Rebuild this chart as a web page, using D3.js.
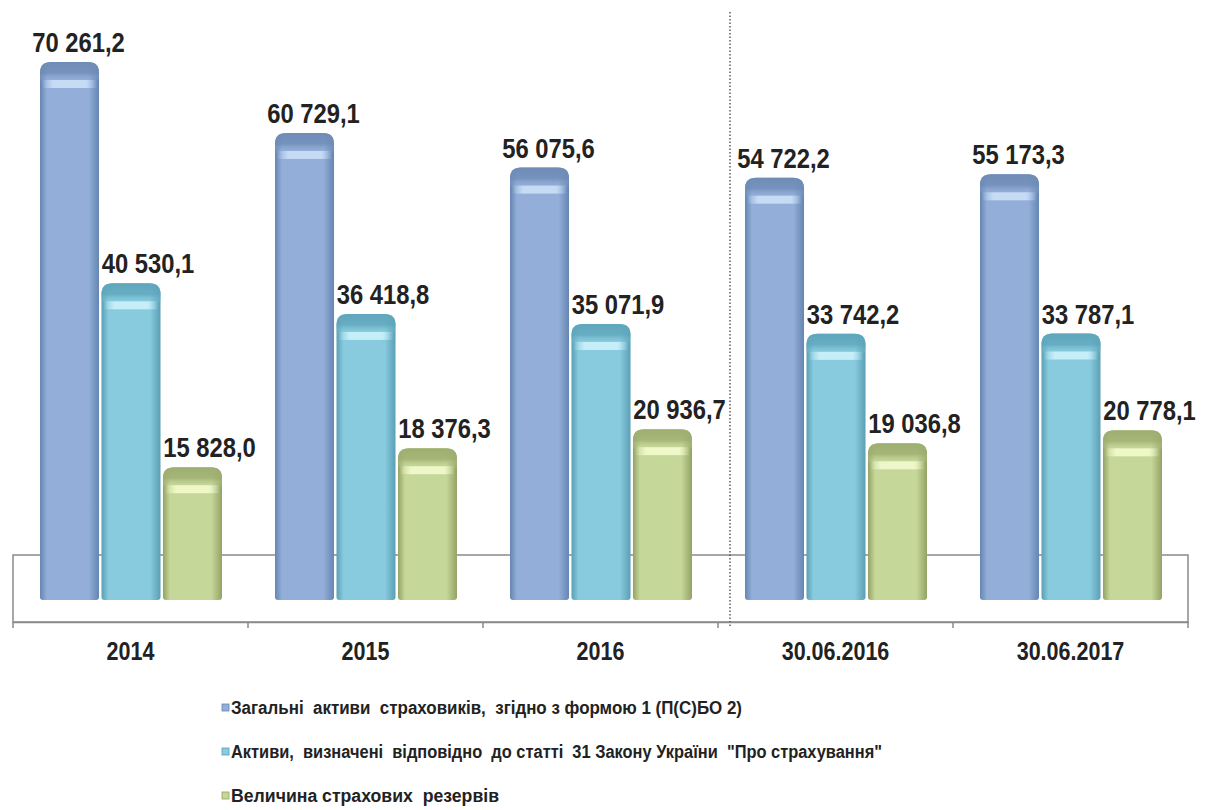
<!DOCTYPE html>
<html>
<head>
<meta charset="utf-8">
<script src="https://cdn.jsdelivr.net/npm/d3@7"></script>
<style>
  body { margin: 0; background: #fff; }
  svg text { font-family: "Liberation Sans", Arial, sans-serif; font-weight: bold; fill: #222; }
</style>
</head>
<body>
<div id="chart"></div>
<script>
// ============ data ============
var categories = ["2014", "2015", "2016", "30.06.2016", "30.06.2017"];
var seriesNames = [
  "Загальні  активи  страховиків,  згідно з формою 1 (П(С)БО 2)",
  "Активи,  визначені  відповідно  до статті  31 Закону України  \"Про страхування\"",
  "Величина страхових  резервів"
];
var totalAssets = [70261.2, 60729.1, 56075.6, 54722.2, 55173.3];
var lawAssets = [40530.1, 36418.8, 35071.9, 33742.2, 33787.1];
var reserves = [15828.0, 18376.3, 20936.7, 19036.8, 20778.1];
var valueLabels = [
  ["70 261,2", "60 729,1", "56 075,6", "54 722,2", "55 173,3"],
  ["40 530,1", "36 418,8", "35 071,9", "33 742,2", "33 787,1"],
  ["15 828,0", "18 376,3", "20 936,7", "19 036,8", "20 778,1"]
];

var seriesValues = [totalAssets, lawAssets, reserves];

// colours per series: body, edge, cap, highlight
var palette = [
  { body: "#93afd9", edge: "#6585b2", cap: "#6f8cb7", hi: "#c8def6" },
  { body: "#88cbde", edge: "#5a9fb5", cap: "#5fa6bc", hi: "#c9f0fa" },
  { body: "#c6d79a", edge: "#93a365", cap: "#9dae70", hi: "#f1f9cb" }
];

// squeeze text horizontally (the original uses a narrow font)
function condense(sel, factor) {
  sel.each(function() {
    var len = this.getComputedTextLength();
    d3.select(this)
      .attr("textLength", len * factor)
      .attr("lengthAdjust", "spacingAndGlyphs");
  });
}

// ============ chart setup ============
var svgWidth = 1217;
var svgHeight = 810;

var svg = d3.select("#chart")
  .append("svg")
  .attr("width", svgWidth)
  .attr("height", svgHeight);

var defs = svg.append("defs");

palette.forEach(function(p, i) {
  var g = defs.append("linearGradient")
    .attr("id", "body" + i)
    .attr("x1", "0%").attr("x2", "100%").attr("y1", "0%").attr("y2", "0%");
  g.append("stop").attr("offset", "0%").attr("stop-color", p.edge);
  g.append("stop").attr("offset", "12%").attr("stop-color", p.body);
  g.append("stop").attr("offset", "82%").attr("stop-color", p.body);
  g.append("stop").attr("offset", "100%").attr("stop-color", p.edge);

  var c = defs.append("linearGradient")
    .attr("id", "cap" + i)
    .attr("x1", "0%").attr("x2", "0%").attr("y1", "0%").attr("y2", "100%");
  c.append("stop").attr("offset", "0%").attr("stop-color", p.cap);
  c.append("stop").attr("offset", "55%").attr("stop-color", p.cap).attr("stop-opacity", 0.8);
  c.append("stop").attr("offset", "100%").attr("stop-color", p.body).attr("stop-opacity", 0);

  var h = defs.append("linearGradient")
    .attr("id", "hi" + i)
    .attr("x1", "0%").attr("x2", "100%").attr("y1", "0%").attr("y2", "0%");
  h.append("stop").attr("offset", "0%").attr("stop-color", p.hi).attr("stop-opacity", 0);
  h.append("stop").attr("offset", "20%").attr("stop-color", p.hi).attr("stop-opacity", 0.95);
  h.append("stop").attr("offset", "80%").attr("stop-color", p.hi).attr("stop-opacity", 0.95);
  h.append("stop").attr("offset", "100%").attr("stop-color", p.hi).attr("stop-opacity", 0);
});

// scales
var x0 = d3.scaleBand()
  .domain(categories)
  .range([13, 1188])
  .padding(0);

var x1 = d3.scaleBand()
  .domain(d3.range(seriesNames.length))
  .range([27, 209])
  .paddingInner(0.04);

var y = d3.scaleLinear()
  .domain([0, d3.max(totalAssets)])
  .range([585, 62]);

var depth = 15;           // 3D floor depth below the zero plane
var floorTop = y(0) - 30; // back edge of the floor
var floorBottom = y(0) + 37;

// floor box
svg.append("rect")
  .attr("x", x0.range()[0])
  .attr("y", floorTop)
  .attr("width", x0.range()[1] - x0.range()[0])
  .attr("height", floorBottom - floorTop)
  .attr("fill", "none")
  .attr("stroke", "#8a8a8a")
  .attr("stroke-width", 1.5);

// dotted divider between annual and half-year data
var divX = x0("30.06.2016") + 12;
svg.append("line")
  .attr("x1", divX).attr("x2", divX)
  .attr("y1", 12).attr("y2", floorBottom + 4)
  .attr("stroke", "#444")
  .attr("stroke-width", 1.3)
  .attr("stroke-dasharray", "1.5,2");

// bars
var groups = svg.selectAll("g.cat")
  .data(categories)
  .enter()
  .append("g")
  .attr("class", "cat")
  .attr("transform", d => `translate(${x0(d)},0)`);

groups.each(function(cat, ci) {
  var g = d3.select(this);
  seriesValues.forEach(function(vals, si) {
    var v = vals[ci];
    var bx = x1(si);
    var bw = x1.bandwidth();
    var top = y(v);
    var bottom = y(0) + depth;
    var r = 11;

    var path = d3.path();
    path.moveTo(bx, bottom - 3);
    path.lineTo(bx, top + r);
    path.quadraticCurveTo(bx, top, bx + r, top);
    path.lineTo(bx + bw - r, top);
    path.quadraticCurveTo(bx + bw, top, bx + bw, top + r);
    path.lineTo(bx + bw, bottom - 3);
    path.quadraticCurveTo(bx + bw, bottom, bx + bw - 3, bottom);
    path.lineTo(bx + 3, bottom);
    path.quadraticCurveTo(bx, bottom, bx, bottom - 3);
    path.closePath();

    g.append("path")
      .attr("d", path.toString())
      .attr("fill", "url(#body" + si + ")");

    // darker rounded cap
    var cap = d3.path();
    cap.moveTo(bx, top + 20);
    cap.lineTo(bx, top + r);
    cap.quadraticCurveTo(bx, top, bx + r, top);
    cap.lineTo(bx + bw - r, top);
    cap.quadraticCurveTo(bx + bw, top, bx + bw, top + r);
    cap.lineTo(bx + bw, top + 20);
    cap.closePath();
    g.append("path")
      .attr("d", cap.toString())
      .attr("fill", "url(#cap" + si + ")");

    // highlight band
    g.append("rect")
      .attr("x", bx + 2)
      .attr("y", top + 18)
      .attr("width", bw - 4)
      .attr("height", 8)
      .attr("fill", "url(#hi" + si + ")");

    // value label, nudged right as in the original
    var nudge = si === 0 ? 9 : 17;
    g.append("text")
      .attr("class", "vlabel")
      .attr("x", bx + bw / 2 + nudge)
      .attr("y", top - 10)
      .attr("text-anchor", "middle")
      .style("font-size", "28px")
      .text(valueLabels[si][ci]);
  });
});
condense(svg.selectAll("text.vlabel"), 0.85);

// x axis along the front of the floor
var xAxis = d3.axisBottom(x0).tickSize(0).tickPadding(0);
var axisG = svg.append("g")
  .attr("transform", `translate(0, ${floorBottom})`)
  .call(xAxis);
axisG.select(".domain").attr("stroke", "#8a8a8a").attr("stroke-width", 1.5);
axisG.selectAll(".tick text")
  .attr("y", 38)
  .attr("dy", 0)
  .style("font-size", "25px")
  .style("font-family", "'Liberation Sans', Arial, sans-serif")
  .style("font-weight", "bold")
  .style("fill", "#222");
condense(axisG.selectAll(".tick text"), 0.86);

// boundary tick marks
var bounds = categories.map(c => x0(c)).concat([x0.range()[1]]);
svg.selectAll("line.btick")
  .data(bounds)
  .enter()
  .append("line")
  .attr("class", "btick")
  .attr("x1", d => d).attr("x2", d => d)
  .attr("y1", floorBottom).attr("y2", floorBottom + 6)
  .attr("stroke", "#8a8a8a")
  .attr("stroke-width", 1.5);

// legend
var legendWidths = [511, 651, 268];
var legend = svg.append("g").attr("transform", "translate(222, 714)");
seriesNames.forEach(function(name, i) {
  var row = legend.append("g").attr("transform", `translate(0, ${i * 44})`);
  row.append("rect")
    .attr("x", 0).attr("y", -10)
    .attr("width", 7).attr("height", 7)
    .attr("fill", palette[i].body)
    .attr("stroke", palette[i].edge)
    .attr("stroke-width", 0.8);
  row.append("text")
    .attr("x", 9)
    .attr("y", 0)
    .style("font-size", "18px")
    .style("white-space", "pre")
    .attr("xml:space", "preserve")
    .attr("textLength", legendWidths[i])
    .attr("lengthAdjust", "spacingAndGlyphs")
    .text(name);
});
</script>
</body>
</html>
